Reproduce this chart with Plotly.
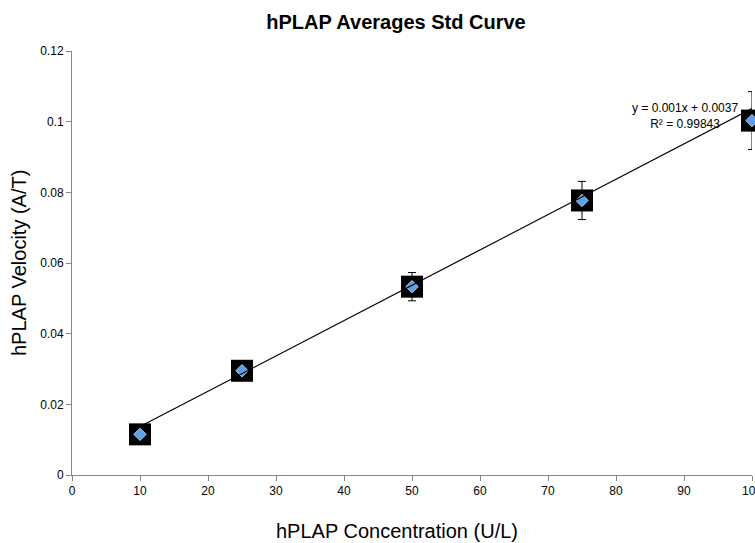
import plotly.graph_objects as go

conc = [10, 25, 50, 75, 100]
velocity = [0.0115, 0.0295, 0.0533, 0.0777, 0.1003]
err = [0.0008, 0.0025, 0.0040, 0.0054, 0.0082]
slope = 0.001
intercept = 0.0037
fit_x = [10, 100]
fit_y = [slope * v + intercept for v in fit_x]
x_ticks = [0, 10, 20, 30, 40, 50, 60, 70, 80, 90, 100]
y_ticks = [0, 0.02, 0.04, 0.06, 0.08, 0.1, 0.12]
y_tick_text = ["0", "0.02", "0.04", "0.06", "0.08", "0.1", "0.12"]

W, H = 755, 543
ml, mr, mt, mb = 72, 3, 51, 68
font = "Liberation Sans, Arial, sans-serif"

fig = go.Figure()
fig.add_trace(go.Scatter(
    x=conc, y=velocity, mode="markers",
    marker=dict(symbol="square", size=22, color="black"),
    error_y=dict(type="data", array=err, visible=True, color="black", thickness=1, width=4),
    cliponaxis=False, showlegend=False, hoverinfo="skip"))
fig.add_trace(go.Scatter(
    x=conc, y=velocity, mode="markers",
    marker=dict(symbol="diamond", size=9.5, color="#5f9fe6",
                line=dict(color="#a6cdf5", width=1)),
    cliponaxis=False, showlegend=False))
fig.add_trace(go.Scatter(
    x=fit_x, y=fit_y, mode="lines",
    line=dict(color="black", width=1.2),
    cliponaxis=False, showlegend=False, hoverinfo="skip"))

px = lambda p: (p - ml) / (W - ml - mr)

fig.update_layout(
    width=W, height=H,
    margin=dict(l=ml, r=mr, t=mt, b=mb, pad=0, autoexpand=False),
    paper_bgcolor="white", plot_bgcolor="white",
    font=dict(family=font, color="black", size=12),
    title=dict(text="<b>hPLAP Averages Std Curve</b>", x=396 / W, xanchor="center",
               y=1 - 22 / H, yanchor="middle", yref="container",
               font=dict(size=20, family=font)),
    xaxis=dict(range=[0, 100], tickvals=x_ticks, ticks="outside", ticklen=5,
               tickcolor="#868686", showline=True, linecolor="#868686", linewidth=1,
               showgrid=False, zeroline=False, tickfont=dict(size=12),
               ticklabeloverflow="allow", automargin=False),
    yaxis=dict(range=[0, 0.12], tickvals=y_ticks, ticktext=y_tick_text, ticks="outside",
               ticklen=5, tickcolor="#868686", showline=True, linecolor="#868686",
               linewidth=1, showgrid=False, zeroline=False, tickfont=dict(size=12),
               ticklabeloverflow="allow", automargin=False),
    annotations=[
        dict(text="hPLAP Concentration (U/L)", xref="paper", yref="paper",
             x=px(396.5), y=0, yshift=-56, xanchor="center", yanchor="middle",
             showarrow=False, font=dict(size=20)),
        dict(text="hPLAP Velocity (A/T)", xref="paper", yref="paper",
             x=0, xshift=19 - ml, y=0.5, textangle=-90, xanchor="center",
             yanchor="middle", showarrow=False, font=dict(size=20)),
        dict(text="y = 0.001x + 0.0037<br>R² = 0.99843", xref="paper", yref="paper",
             x=px(685), y=(H - mb - 116) / (H - mt - mb), xanchor="center",
             yanchor="middle", showarrow=False, align="center",
             font=dict(size=12)),
    ],
)
fig.write_html("out.html")
